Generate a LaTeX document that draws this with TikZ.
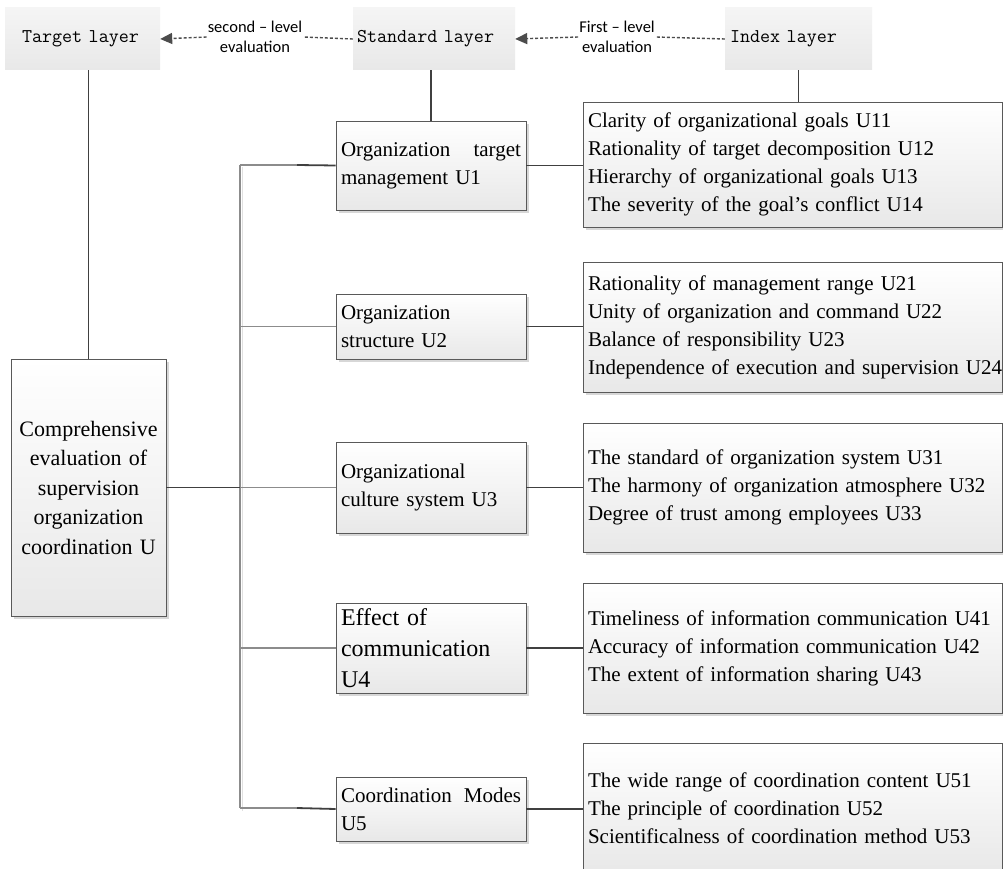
\documentclass[tikz,border=0pt]{standalone}
\usepackage{fontspec}
\setmainfont{Liberation Serif}
\newfontfamily\lblfont{Carlito}
\usetikzlibrary{shadows,arrows.meta}
\tikzset{
  box/.style={draw=black!65, line width=0.9pt, top color=white, bottom color=black!9,
    drop shadow={shadow xshift=3pt, shadow yshift=-3pt, fill=black!22, opacity=0.7},
    inner sep=0pt, font=\fontsize{21}{28}\selectfont},
  ubox/.style={box, minimum width=190pt, text width=180pt, align=left},
  ibox/.style={box, minimum width=419.5pt, text width=410pt, align=left},
  layer/.style={top color=black!4, bottom color=black!9, inner ysep=0pt, minimum height=62pt,
    align=left, font=\ttfamily\fontsize{19.5}{22}\selectfont},
  lbl/.style={fill=white, inner sep=1pt, align=center, font=\lblfont\fontsize{16.5}{20}\selectfont},
  dashline/.style={draw=black!70, line width=1.4pt, dash pattern=on 3pt off 2pt},
  dark/.style={draw=black!75, line width=1.8pt},
  light/.style={draw=black!45, line width=1.2pt},
}
\begin{document}
\begin{tikzpicture}[x=1pt,y=-1pt]
\useasboundingbox (0,0) rectangle (1003,869);
\fill[white] (0,0) rectangle (1003,869);
\clip (0,0) rectangle (1003,869);

% layer headers
\node[layer, minimum width=155pt, text width=121pt, inner xsep=17pt] (T) at (82.5,39) {Target layer};
\node[layer, minimum width=162pt, text width=154pt, inner xsep=4pt] (S) at (434,39) {Standard layer};
\node[layer, minimum width=147pt, text width=137pt, inner xsep=5pt] (IL) at (798.5,39) {Index layer};

\node[lbl] (L1) at (255,37) {second – level\\evaluation};
\node[lbl] (L2) at (617,37) {First – level\\evaluation};
\draw[dashline] (S.west) -- (L1.east);
\draw[dashline, -{Triangle[length=12pt,width=11pt]}] (L1.west) -- (T.east);
\draw[dashline] (IL.west) -- (L2.east);
\draw[dashline, -{Triangle[length=12pt,width=11pt]}] (L2.west) -- (S.east);

% main box
\node[box, minimum width=155pt, minimum height=257pt, text width=150pt, align=center,
  font=\fontsize{22}{29.5}\selectfont] (U) at (88.5,487.5)
  {Comprehensive\\evaluation of\\supervision\\organization\\coordination U};

% standard boxes
\node[ubox, minimum height=89pt] (U1) at (431,165.5) {Organization\hfill target\\management U1};
\node[ubox, minimum height=65pt] (U2) at (431,326.5) {Organization\\structure U2};
\node[ubox, minimum height=91pt] (U3) at (431,487.5) {Organizational\\culture system U3};
\node[ubox, minimum height=90pt, font=\fontsize{24}{31}\selectfont] (U4) at (431,648) {Effect of\\communication\\U4};
\node[ubox, minimum height=64pt] (U5) at (431,809) {Coordination\hfill Modes\\U5};

% index boxes
\node[ibox, minimum height=125pt] (I1) at (793,164.5) {Clarity of organizational goals U11\\Rationality of target decomposition U12\\Hierarchy of organizational goals U13\\The severity of the goal’s conflict U14};
\node[ibox, minimum height=130pt] (I2) at (793,327) {Rationality of management range U21\\Unity of organization and command U22\\Balance of responsibility U23\\\mbox{Independence of execution and supervision U24}};
\node[ibox, minimum height=129pt] (I3) at (793,487.5) {The standard of organization system U31\\The harmony of organization atmosphere U32\\Degree of trust among employees U33};
\node[ibox, minimum height=130pt] (I4) at (793,648) {Timeliness of information communication U41\\Accuracy of information communication U42\\The extent of information sharing U43};
\node[ibox, minimum height=130pt] (I5) at (793,808) {The wide range of coordination content U51\\The principle of coordination U52\\Scientificalness of coordination method U53};

% vertical connectors from headers
\draw[dark] (T.south -| U.north) -- (U.north);
\draw[dark] (S.south -| U1.north) -- (U1.north);
\draw[dark] (IL.south) -- (IL.south |- I1.north);

% trunk
\coordinate (tt) at (240,165);
\coordinate (tb) at (240,808);
\coordinate (d1) at (297,165);
\coordinate (d5) at (297,808);
\draw[black!12, line width=1pt] (242.5,167.5) -- (242.5,810.5);
\draw[light] (tt) -- (tb);
\draw[dark] (U.east) -- (U.east -| tt);
\draw[light] (tt) -- (d1);
\draw[dark] (d1) -- (U1.west);
\draw[light] (U2.west -| tt) -- (U2.west);
\draw[light] (U3.west -| tt) -- (U3.west);
\draw[light] (U4.west -| tt) -- (U4.west);
\draw[light] (tb) -- (d5);
\draw[dark] (d5) -- (U5.west);

% standard to index
\draw[dark] (U1.east) -- (U1.east -| I1.west);
\draw[dark] (U2.east) -- (U2.east -| I2.west);
\draw[dark] (U3.east) -- (U3.east -| I3.west);
\draw[dark] (U4.east) -- (U4.east -| I4.west);
\draw[dark] (U5.east) -- (U5.east -| I5.west);
\end{tikzpicture}
\end{document}
